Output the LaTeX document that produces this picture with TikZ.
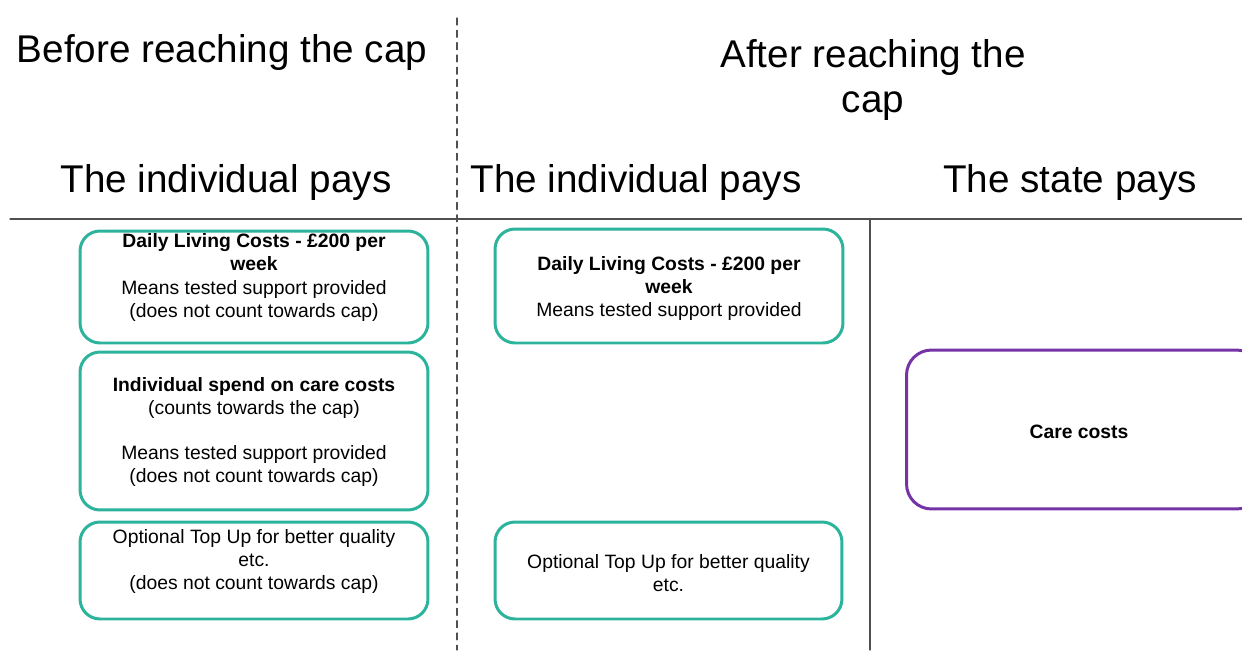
\documentclass[tikz,border=0pt]{standalone}
\usepackage{fontspec}
\setmainfont{Liberation Sans}
\usepackage{tikz}
\usetikzlibrary{arrows}
\definecolor{capteal}{HTML}{2BB39C}
\definecolor{cappurple}{HTML}{7434A6}
\definecolor{rulegrey}{HTML}{505050}
\tikzset{
  costbox/.style={draw=capteal,line width=1.7pt,rounded corners=0.4cm,fill=white},
  statebox/.style={draw=cappurple,line width=1.7pt,rounded corners=0.5cm,fill=white},
  heading/.style={font=\fontsize{22}{26}\selectfont,align=center},
  boxtext/.style={font=\fontsize{11}{13.1}\selectfont,align=center}
}

\begin{document}
\begin{tikzpicture}[line cap=round,line join=round,x=0.02cm,y=-0.02cm]
  \useasboundingbox (0,0) rectangle (1242,650);
  \clip (0,0) rectangle (1242,650);
%% rules
\draw [rulegrey,line width=0.6pt] (10,219) -- (1242,219);
\draw [rulegrey,line width=0.6pt,dash pattern=on 4pt off 3pt] (457,18) -- (457,650);
\draw [rulegrey,line width=0.6pt] (870,219) -- (870,650);
%% headings
\node[heading] (before) at (222,53) {Before reaching the cap};
\node[heading] (after) at (873,80) {After reaching the\\cap};
\node[heading] (indivA) at (226,182) {The individual pays};
\node[heading] (indivB) at (636,182) {The individual pays};
\node[heading] (state) at (1070,182) {The state pays};
%% boxes, left column
\node[costbox,minimum width=6.96cm,minimum height=2.24cm] (livingA) at (254,287) {};
\node[costbox,minimum width=6.96cm,minimum height=3.16cm] (careA) at (254,431) {};
\node[costbox,minimum width=6.96cm,minimum height=1.94cm] (topupA) at (254,570.5) {};
%% boxes, middle and right
\node[costbox,minimum width=6.96cm,minimum height=2.28cm] (livingB) at (669,286) {};
\node[costbox,minimum width=6.94cm,minimum height=1.94cm] (topupB) at (668.5,570.5) {};
\node[statebox,minimum width=7.1cm,minimum height=3.18cm] (care) at (1084,429.5) {};
%% box texts
\node[boxtext] (livingAtxt) at (254,277.5) {\textbf{Daily Living Costs - £200 per}\\\textbf{week}\\Means tested support provided\\(does not count towards cap)};
\node[boxtext] (careAtxt) at (254,432) {\textbf{Individual spend on care costs}\\(counts towards the cap)\\[12.5pt]Means tested support provided\\(does not count towards cap)};
\node[boxtext] (topupAtxt) at (254,561.5) {Optional Top Up for better quality\\etc.\\(does not count towards cap)};
\node[boxtext] (livingBtxt) at (669,288.5) {\textbf{Daily Living Costs - £200 per}\\\textbf{week}\\Means tested support provided};
\node[boxtext] (topupBtxt) at (668.5,573) {Optional Top Up for better quality\\etc.};
\node[boxtext,font=\fontsize{11}{13.1}\selectfont\bfseries] (caretxt) at (1079,431.5) {Care costs};
\end{tikzpicture}
\end{document}
